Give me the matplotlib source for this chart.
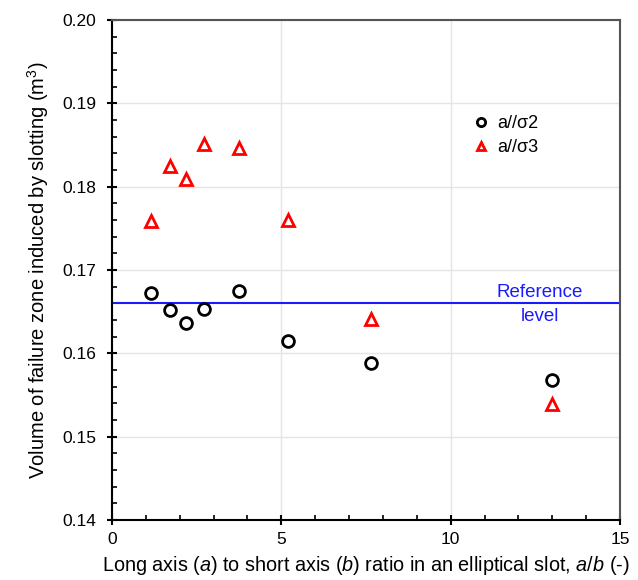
import matplotlib.pyplot as plt
from matplotlib.ticker import MultipleLocator

plt.rcParams['font.family'] = ['Liberation Sans', 'DejaVu Sans']
plt.rcParams['mathtext.fontset'] = 'custom'
plt.rcParams['mathtext.rm'] = 'Liberation Sans'
plt.rcParams['mathtext.it'] = 'Liberation Sans:italic'

# slot aspect ratio a/b and failure-zone volume (m3)
ratio_s2 = [1.15, 1.71, 2.18, 2.72, 3.75, 5.2, 7.65, 13.0]
vol_s2 = [0.1672, 0.1652, 0.1636, 0.1653, 0.1675, 0.1615, 0.1589, 0.1568]
ratio_s3 = [1.15, 1.71, 2.18, 2.72, 3.75, 5.2, 7.65, 13.0]
vol_s3 = [0.1759, 0.1825, 0.1809, 0.1851, 0.1846, 0.1760, 0.1641, 0.1539]
ref_level = 0.166

fig = plt.figure(figsize=(6.38, 5.8), dpi=100)
ax = fig.add_axes([112 / 638, 60 / 580, 508 / 638, 500 / 580])

ax.plot(ratio_s2, vol_s2, 'o', ms=8.5, mfc='none', mec='black', mew=2,
        label='a//σ2', zorder=3)
ax.plot(ratio_s3, vol_s3, '^', ms=8.5, mfc='none', mec='red', mew=2,
        label='a//σ3', zorder=3)
ax.axhline(ref_level, color='#1a1aff', lw=1.5, zorder=2)
ax.text(12.64, ref_level + 0.0003, 'Reference', color='#1a1aff',
        ha='center', va='bottom', fontsize=13.5)
ax.text(12.64, ref_level - 0.0005, 'level', color='#1a1aff',
        ha='center', va='top', fontsize=13.5)

ax.set_xlim(0, 15)
ax.set_ylim(0.14, 0.20)
ax.xaxis.set_major_locator(MultipleLocator(5))
ax.xaxis.set_minor_locator(MultipleLocator(1))
ax.yaxis.set_major_locator(MultipleLocator(0.01))
ax.yaxis.set_minor_locator(MultipleLocator(0.002))
ax.yaxis.set_major_formatter(plt.FuncFormatter(lambda v, p: f'{v:.2f}'))
ax.grid(True, which='major', color='#e4e4e4', lw=1, zorder=0)

ax.tick_params(which='major', direction='inout', length=7, width=1.5,
               labelsize=12.5, top=False, right=False)
ax.tick_params(which='minor', direction='in', length=3.6, width=1.2,
               top=False, right=False)
ax.tick_params(axis='x', pad=5)
ax.tick_params(axis='y', pad=8)

for side in ['left', 'bottom']:
    ax.spines[side].set_color('black')
    ax.spines[side].set_linewidth(1.5)
for side in ['top', 'right']:
    ax.spines[side].set_color('#555555')
    ax.spines[side].set_linewidth(1.5)

ax.set_xlabel('Long axis ($\\it{a}$) to short axis ($\\it{b}$) ratio in an elliptical slot, $\\it{a/b}$ (-)',
              fontsize=14.3, labelpad=5)
ax.set_ylabel('Volume of failure zone induced by slotting (m$^3$)',
              fontsize=14.5, labelpad=8)

ax.legend(loc='upper left', bbox_to_anchor=(0.709, 0.81), frameon=False,
          borderaxespad=0, borderpad=0, fontsize=13, handletextpad=0.4,
          labelspacing=0.4, handlelength=1.0, markerscale=0.7)

fig.savefig('out.png', dpi=100)
